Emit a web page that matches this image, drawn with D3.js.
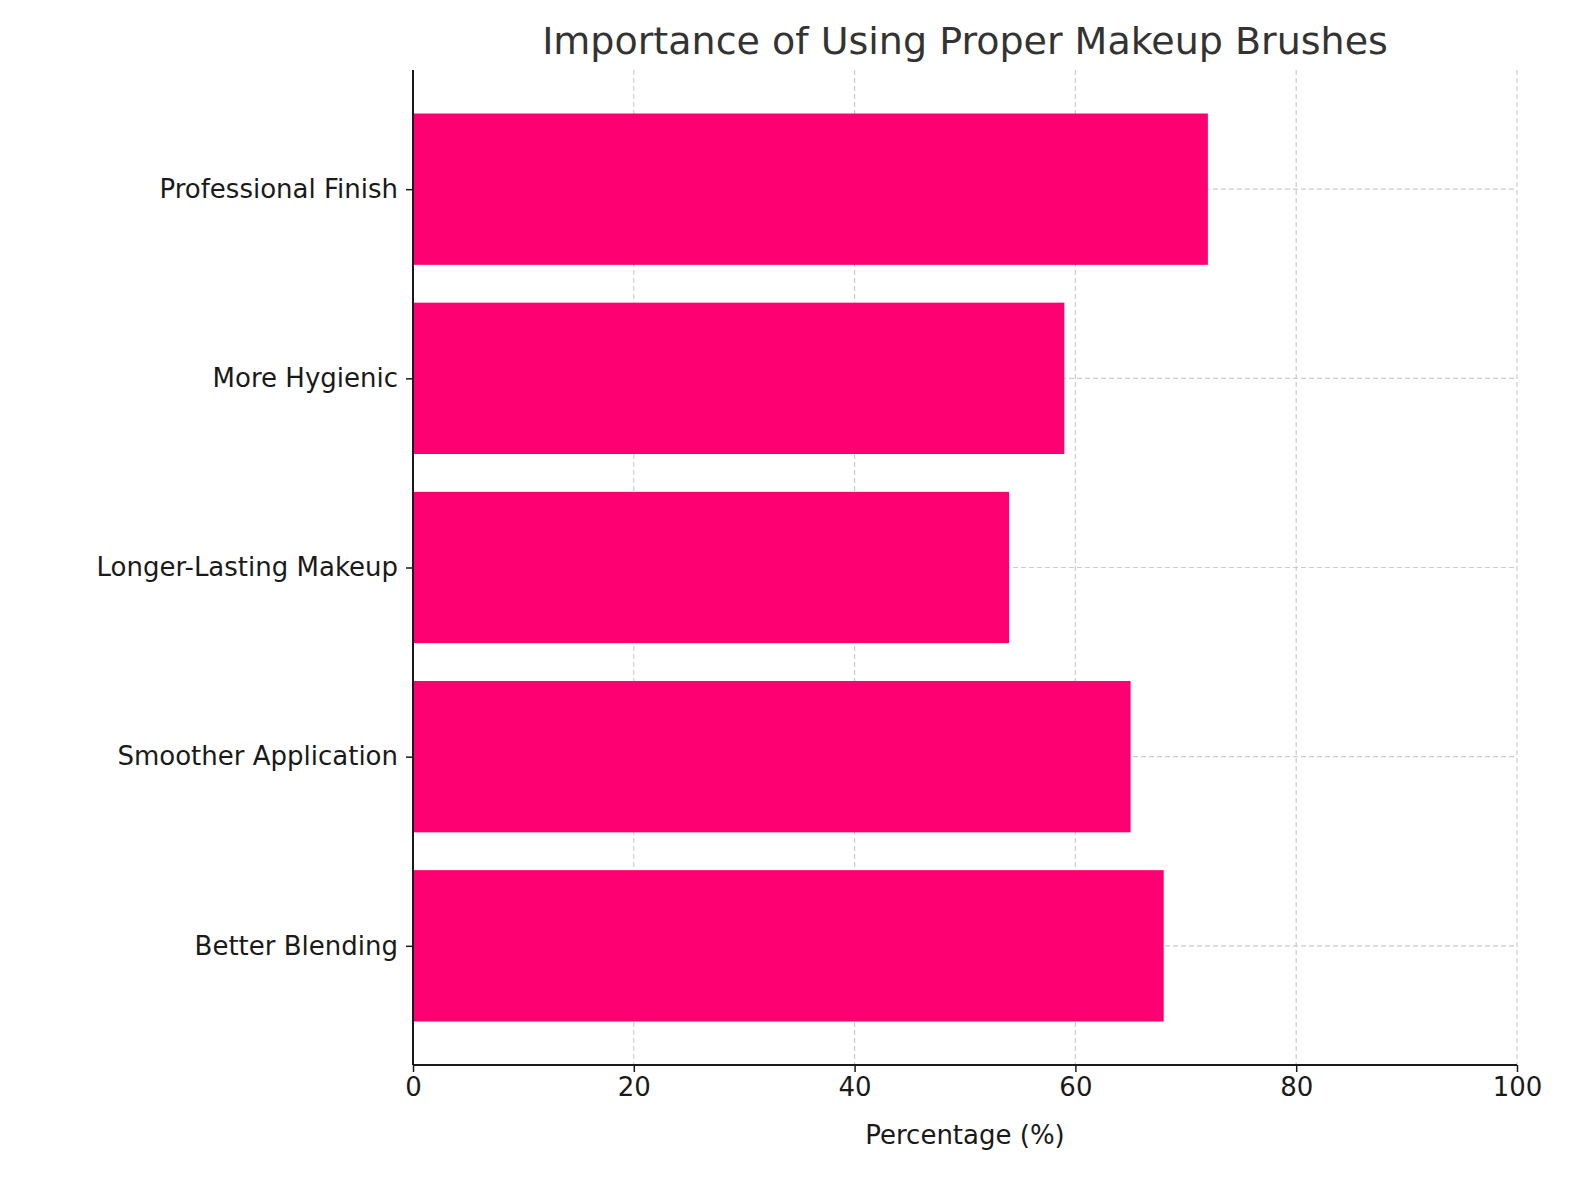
<!DOCTYPE html>
<html><head><meta charset="utf-8">
<script src="https://cdn.jsdelivr.net/npm/d3@7"></script>
<style>body{margin:0;background:#fff}</style>
</head><body>
<svg id="c" width="1579" height="1180"></svg>
<script>
const categories = ["Better Blending","Smoother Application","Longer-Lasting Makeup","More Hygienic","Professional Finish"];
const values = [68,65,54,59,72];
const xTicks = [0,20,40,60,80,100];
const title = "Importance of Using Proper Makeup Brushes";
const xLabel = "Percentage (%)";

const svg = d3.select("#c");
const L=413,R=1517,T=70,B=1065;
const font="DejaVu Sans, sans-serif";
const x=d3.scaleLinear().domain([0,100]).range([L,R]);
const y=d3.scaleLinear().domain([-0.63,4.63]).range([B,T]);
const bh=y(0)-y(0.8);

const g=svg.append("g");
// grid
g.selectAll(".vg").data(xTicks).join("line").attr("x1",d=>x(d)).attr("x2",d=>x(d)).attr("y1",T).attr("y2",B)
 .attr("stroke","#cccccc").attr("stroke-dasharray","5,3").attr("stroke-width",1.2);
g.selectAll(".hg").data(categories).join("line").attr("x1",L).attr("x2",R).attr("y1",(d,i)=>y(i)).attr("y2",(d,i)=>y(i))
 .attr("stroke","#cccccc").attr("stroke-dasharray","5,3").attr("stroke-width",1.2);
// bars
g.selectAll(".bar").data(values).join("rect").attr("x",x(0)).attr("y",(d,i)=>y(i)-bh/2)
 .attr("width",d=>x(d)-x(0)).attr("height",bh).attr("fill","#ff0072");
// axes
const xa=svg.append("g").attr("transform",`translate(0,${B})`).call(d3.axisBottom(x).tickValues(xTicks).tickSize(7).tickPadding(6));
const ya=svg.append("g").attr("transform",`translate(${L},0)`).call(d3.axisLeft(y).tickValues(d3.range(categories.length)).tickFormat(i=>categories[i]).tickSize(7).tickPadding(8));
[xa,ya].forEach(a=>{a.selectAll("text").attr("font-family",font).attr("font-size",26).attr("fill","#1a1a1a");
 a.selectAll("line").attr("stroke","#1a1a1a").attr("stroke-width",1.5);
 a.select(".domain").attr("stroke","#1a1a1a").attr("stroke-width",2);});
xa.select(".domain").attr("d",`M${L},0H${R}`);
ya.select(".domain").attr("d",`M0,${T}V${B}`);
svg.append("text").attr("x",(L+R)/2).attr("y",1144).attr("text-anchor","middle").attr("font-family",font).attr("font-size",26).attr("fill","#1a1a1a").text(xLabel);
svg.append("text").attr("x",965).attr("y",54).attr("text-anchor","middle").attr("font-family",font).attr("font-size",38).attr("fill","#333").text(title);
</script>
</body></html>
